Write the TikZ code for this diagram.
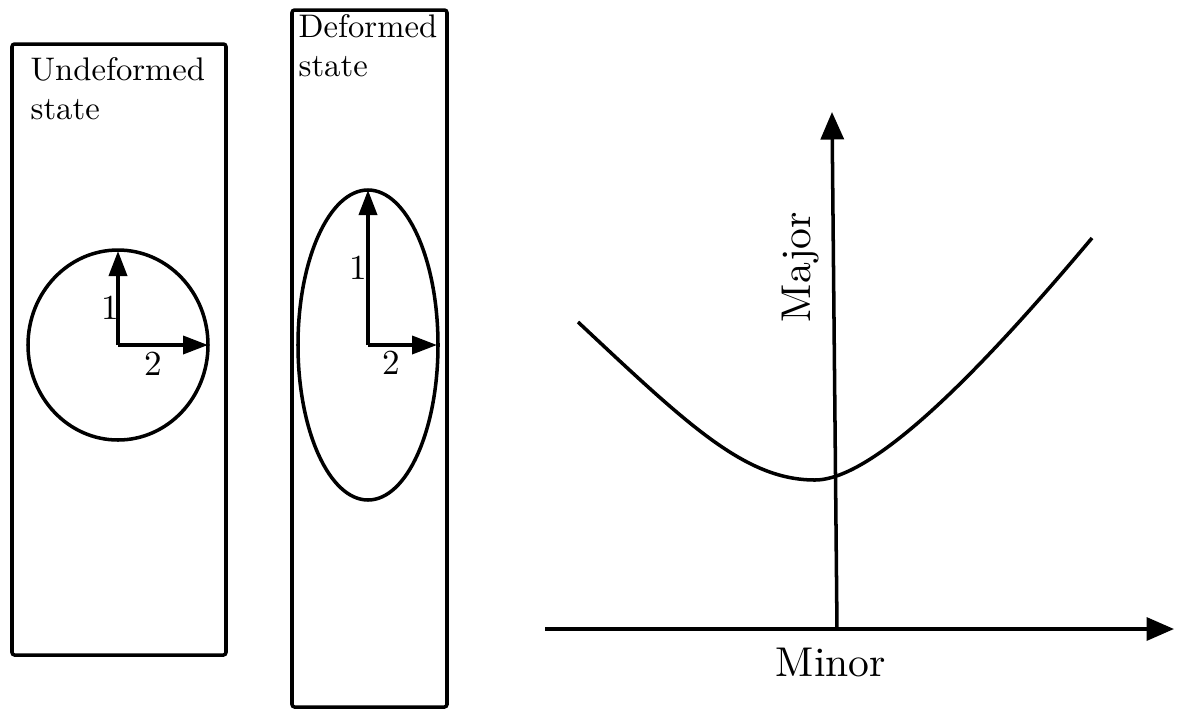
\documentclass[tikz,border=0pt]{standalone}
\usepackage{tikz}
\usetikzlibrary{positioning,arrows.meta}

\begin{document}
\begin{tikzpicture}[
    x=0.02cm, y=-0.02cm,
    frame/.style={line width=2pt, rounded corners=1.5pt},
    shapeline/.style={line width=2pt},
    vec/.style={-{Triangle[length=0.5cm, width=0.36cm]}, line width=2.1pt},
    axis/.style={-{Triangle[length=0.55cm, width=0.46cm]}, line width=2pt},
    statelbl/.style={scale=1.86, align=left, anchor=north west, inner sep=0pt},
    numlbl/.style={scale=2, inner sep=0pt},
    axislbl/.style={scale=2.37, inner sep=0pt},
]
\useasboundingbox (0,0) rectangle (1177,708);

% undeformed sample
\draw[frame] (12,44) rectangle (226,655);
\node[statelbl] (undef) at (30,57) {Undeformed\\state};
\coordinate (c1) at (118,345);
\coordinate (c1up) at (118,251);
\coordinate (c1right) at (208,345);
\draw[shapeline] (c1) circle [x radius=90, y radius=95];
\draw[vec] (c1) -- (c1up);
\draw[vec] (c1) -- (c1right);
\node[numlbl] (u1) at (110,308) {1};
\node[numlbl] (u2) at (153,364) {2};

% deformed sample
\draw[frame] (292,10) rectangle (447,707);
\node[statelbl] (def) at (298,14) {Deformed\\state};
\coordinate (c2) at (368,345);
\coordinate (c2up) at (368,190);
\coordinate (c2right) at (437,345);
\draw[shapeline] (c2) ellipse [x radius=70, y radius=155];
\draw[vec] (c2) -- (c2up);
\draw[vec] (c2) -- (c2right);
\node[numlbl] (d1) at (358,268) {1};
\node[numlbl] (d2) at (391,363) {2};

% forming limit diagram
\coordinate (o) at (837,629);
\coordinate (xleft) at (545,629);
\coordinate (xend) at (1174,629);
\coordinate (yend) at (832,112);
\draw[axis] (xleft) -- (xend);
\draw[axis] (o) -- (yend);
\node[axislbl, rotate=90] (major) at (801,267) {Major};
\node[axislbl] (minor) at (831,662) {Minor};
\coordinate (fl) at (578,322);
\coordinate (fm) at (815,480);
\coordinate (fr) at (1092,238);
\draw[shapeline] (fl) .. controls (688,425) and (745,480) .. (fm)
    .. controls (880,480) and (1002,345) .. (fr);
\end{tikzpicture}
\end{document}
